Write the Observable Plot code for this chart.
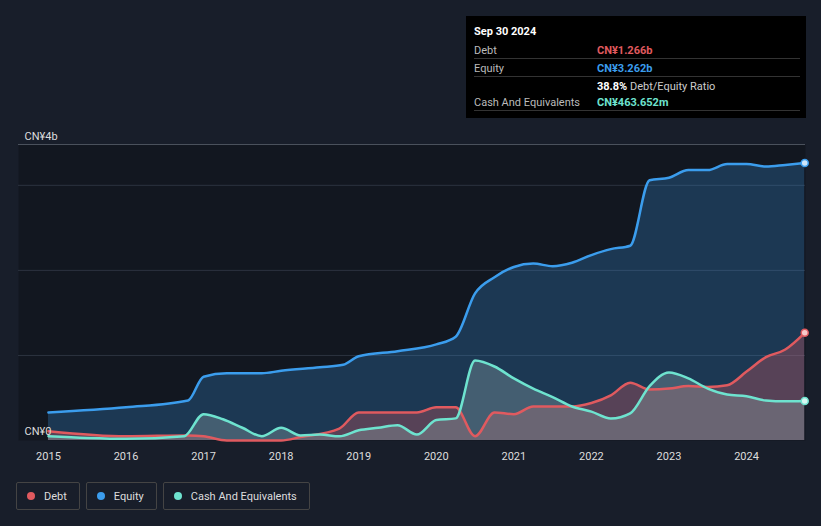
<!DOCTYPE html>
<html><head><meta charset="utf-8">
<script src="https://cdn.jsdelivr.net/npm/d3@7"></script>
<script src="https://cdn.jsdelivr.net/npm/@observablehq/plot@0.6"></script>
<style>
body{margin:0;background:#181e2a;font-family:Roboto,"Noto Sans",sans-serif;overflow:hidden}
#wrap{position:relative;width:821px;height:526px}
#tip{position:absolute;left:466px;top:16px;width:340px;height:102px;background:#000;color:#fff;font-size:11px}
#tip .r{position:absolute;left:8px;right:6px;height:18px;border-bottom:1px solid #333}
#tip .l{position:absolute;left:0;top:4px;color:#bbb}
#tip .v{position:absolute;left:123px;top:4px;font-weight:bold}
#legend{position:absolute;top:482px;left:16px;display:flex;gap:6px;font-size:11px;color:#ddd}
#legend div{border:1px solid #444;border-radius:2px;height:26px;display:flex;align-items:center;padding:0 12px 0 10px}
#legend span{display:inline-block;width:8px;height:8px;border-radius:50%;margin-right:9px}
</style></head><body>
<div id="wrap"><div id="chart"></div>
<div id="tip">
 <div style="position:absolute;left:8px;top:9px;font-weight:bold">Sep 30 2024</div>
 <div class="r" style="top:24px"><span class="l">Debt</span><span class="v" style="color:#e05a5f">CN¥1.266b</span></div>
 <div class="r" style="top:42px"><span class="l">Equity</span><span class="v" style="color:#3b9ded">CN¥3.262b</span></div>
 <div class="r" style="top:60px;border:none"><span class="v" style="color:#fff">38.8%<span style="font-weight:normal;color:#ccc"> Debt/Equity Ratio</span></span></div>
 <div class="r" style="top:76px"><span class="l">Cash And Equivalents</span><span class="v" style="color:#6ee3cf">CN¥463.652m</span></div>
</div>
<div id="legend">
 <div><span style="background:#e05a5f"></span>Debt</div>
 <div><span style="background:#3b9ded"></span>Equity</div>
 <div><span style="background:#6ee3cf"></span>Cash And Equivalents</div>
</div></div>
<script>
const eqT=[2015,2016,2016.8,2017,2017.3,2017.75,2018,2018.5,2018.8,2019,2019.5,2020,2020.25,2020.5,2020.75,2021,2021.25,2021.5,2021.75,2022,2022.25,2022.5,2022.75,2023,2023.25,2023.5,2023.75,2024,2024.25,2024.5,2024.75];
const eqV=[0.33,0.39,0.47,0.75,0.79,0.79,0.82,0.86,0.89,0.99,1.05,1.13,1.22,1.73,1.92,2.04,2.08,2.05,2.09,2.18,2.25,2.29,3.06,3.09,3.18,3.18,3.25,3.25,3.22,3.24,3.262];
const dT=[2015,2016,2016.8,2017,2017.3,2017.5,2018,2018.25,2018.75,2019,2019.5,2019.75,2020,2020.25,2020.5,2020.75,2021,2021.25,2021.75,2022,2022.25,2022.5,2022.75,2023,2023.25,2023.5,2023.75,2024,2024.25,2024.5,2024.75];
const dV=[0.11,0.05,0.06,0.05,0,0,0,0.04,0.14,0.33,0.33,0.33,0.39,0.39,0.05,0.33,0.31,0.4,0.4,0.44,0.53,0.68,0.6,0.61,0.64,0.63,0.65,0.81,0.98,1.07,1.266];
const cT=[2015,2015.5,2016,2016.75,2017,2017.25,2017.5,2017.75,2018,2018.25,2018.5,2018.75,2019,2019.25,2019.5,2019.75,2020,2020.25,2020.5,2020.75,2021,2021.25,2021.5,2021.75,2022,2022.25,2022.5,2022.75,2023,2023.25,2023.5,2023.75,2024,2024.25,2024.5,2024.75];
const cV=[0.05,0.03,0.02,0.05,0.31,0.25,0.15,0.05,0.15,0.06,0.07,0.05,0.12,0.15,0.18,0.07,0.24,0.26,0.94,0.87,0.73,0.61,0.51,0.4,0.34,0.26,0.32,0.64,0.8,0.73,0.61,0.54,0.52,0.47,0.46,0.4637];
const years=[2015,2016,2017,2018,2019,2020,2021,2022,2023,2024];
const mk=(t,v)=>t.map((x,i)=>({t:x,v:v[i]}));
const eq=mk(eqT,eqV),debt=mk(dT,dV),cash=mk(cT,cV);
const C={eq:"#3b9ded",d:"#e05a5f",c:"#6ee3cf"};
const cu="monotone-x";
const plot=Plot.plot({width:821,height:526,marginTop:144,marginBottom:86,marginLeft:18,marginRight:16,
 style:{background:"transparent",color:"#ddd",fontSize:"11px",fontFamily:"Roboto,sans-serif"},
 x:{domain:[2014.614,2024.76],ticks:years,tickFormat:d=>String(d),tickSize:0,tickPadding:12,label:null},
 y:{domain:[0,3.48],axis:null},
 marks:[
  Plot.frame({fill:"#121720",stroke:null}),
  Plot.ruleY([1,2,3],{stroke:"#2c333f",strokeWidth:1}),
  Plot.ruleY([3.48],{stroke:"#4a515c",strokeWidth:1}),
  Plot.areaY(eq,{x:"t",y:"v",fill:C.eq,fillOpacity:0.25,curve:cu}),
  Plot.areaY(debt,{x:"t",y:"v",fill:C.d,fillOpacity:0.3,curve:cu}),
  Plot.areaY(cash,{x:"t",y:"v",fill:"#8fa5a8",fillOpacity:0.35,curve:cu}),
  Plot.line(eq,{x:"t",y:"v",stroke:C.eq,strokeWidth:2.5,curve:cu}),
  Plot.line(debt,{x:"t",y:"v",stroke:C.d,strokeWidth:2.5,curve:cu}),
  Plot.line(cash,{x:"t",y:"v",stroke:C.c,strokeWidth:2.5,curve:cu}),
  Plot.dot([eq.at(-1)],{x:"t",y:"v",fill:"#cfe6fa",stroke:C.eq,r:3.5}),
  Plot.dot([debt.at(-1)],{x:"t",y:"v",fill:"#f7c9ca",stroke:C.d,r:3.5}),
  Plot.dot([cash.at(-1)],{x:"t",y:"v",fill:"#d6f7f1",stroke:C.c,r:3.5}),
  Plot.text(["CN¥4b"],{frameAnchor:"top-left",dx:6,dy:-12,fill:"#ddd",textAnchor:"start"}),
  Plot.text(["CN¥0"],{x:2014.614,y:0,dx:6,dy:-9,fill:"#ddd",textAnchor:"start"})
 ]});
document.getElementById("chart").append(plot);
</script></body></html>
